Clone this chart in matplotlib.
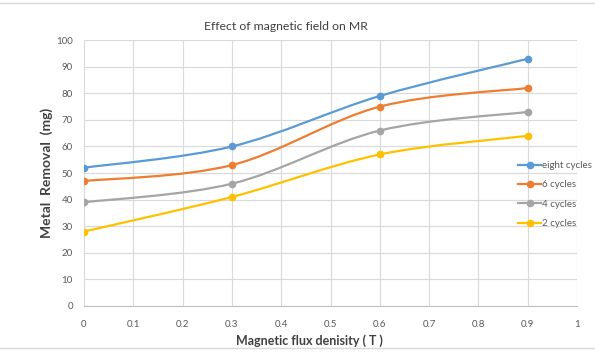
import matplotlib
matplotlib.use("Agg")
import matplotlib.pyplot as plt
import numpy as np
from matplotlib.lines import Line2D
from matplotlib.path import Path
from matplotlib.patches import PathPatch

plt.rcParams["font.family"] = ["Lato", "DejaVu Sans"]

# data
flux = [0, 0.3, 0.6, 0.9]
series_names = ["eight cycles", "6 cycles", "4 cycles", "2 cycles"]
eight_cycles = [52, 60, 79, 93]
six_cycles = [47, 53, 75, 82]
four_cycles = [39, 46, 66, 73]
two_cycles = [28, 41, 57, 64]
colors = ["#5B9BD5", "#ED7D31", "#A5A5A5", "#FFC000"]
x_ticks = [0, 0.1, 0.2, 0.3, 0.4, 0.5, 0.6, 0.7, 0.8, 0.9, 1]
y_ticks = [0, 10, 20, 30, 40, 50, 60, 70, 80, 90, 100]


def smooth_path(xs, ys):
    """Excel-like smoothed line: Catmull-Rom segments as cubic Beziers."""
    pts = np.column_stack([xs, ys]).astype(float)
    ext = np.vstack([pts[0], pts, pts[-1]])
    verts = [pts[0]]
    codes = [Path.MOVETO]
    for i in range(len(pts) - 1):
        p0, p1, p2, p3 = ext[i], ext[i + 1], ext[i + 2], ext[i + 3]
        verts += [p1 + (p2 - p0) / 6, p2 - (p3 - p1) / 6, p2]
        codes += [Path.CURVE4] * 3
    return Path(verts, codes)


fig = plt.figure(figsize=(5.95, 3.54), dpi=100)
ax = fig.add_axes([0.141, 0.1356, 0.829, 0.751])

all_series = [eight_cycles, six_cycles, four_cycles, two_cycles]
handles = []
for name, vals, c in zip(series_names, all_series, colors):
    patch = PathPatch(smooth_path(flux, vals), facecolor="none", edgecolor=c,
                      lw=1.6, transform=ax.transData, zorder=3)
    ax.add_patch(patch)
    ax.plot(flux, vals, "o", color=c, ms=4.5, zorder=4)
    handles.append(Line2D([], [], color=c, lw=1.6, marker="o", ms=4.5, label=name))

ax.set_xlim(0, 1)
ax.set_ylim(0, 100)
ax.set_xticks(x_ticks)
ax.set_xticklabels([f"{t:g}" for t in x_ticks])
ax.set_yticks(y_ticks)
ax.grid(True, color="#D9D9D9", lw=0.8)
ax.set_axisbelow(True)
for s in ["top", "right", "left"]:
    ax.spines[s].set_visible(False)
ax.spines["bottom"].set_color("#BFBFBF")
ax.tick_params(axis="x", length=0, labelsize=7, colors="#595959", pad=10)
ax.tick_params(axis="y", length=0, labelsize=7, colors="#595959", pad=8)

# title and axis titles are centred on the chart area, as in Excel
fig.text(286 / 595, 1 - 27 / 354, "Effect of magnetic field on MR", fontsize=8.8,
         color="#404040", ha="center", va="center")
fig.text(309 / 595, 1 - 341 / 354, "Magnetic flux denisity ( T )", fontsize=9,
         fontweight="bold", color="#404040", ha="center", va="center")
fig.text(47 / 595, 1 - 173 / 354, "Metal  Removal  (mg)", fontsize=10,
         fontweight="bold", color="#404040", ha="center", va="center", rotation=90)

leg = fig.legend(handles=handles, loc="center left", bbox_to_anchor=(0.8706, 0.45),
                 frameon=False, fontsize=7, handlelength=2.4, handletextpad=0.1,
                 labelspacing=1.07, labelcolor="#595959", borderpad=0,
                 borderaxespad=0)

# thin page-border lines above and below the chart
fig.add_artist(Line2D([0, 1], [0.992, 0.992], color="#D9D9D9", lw=1))
fig.add_artist(Line2D([0, 1], [0.017, 0.017], color="#D9D9D9", lw=1))

fig.savefig("out.png", dpi=100)
